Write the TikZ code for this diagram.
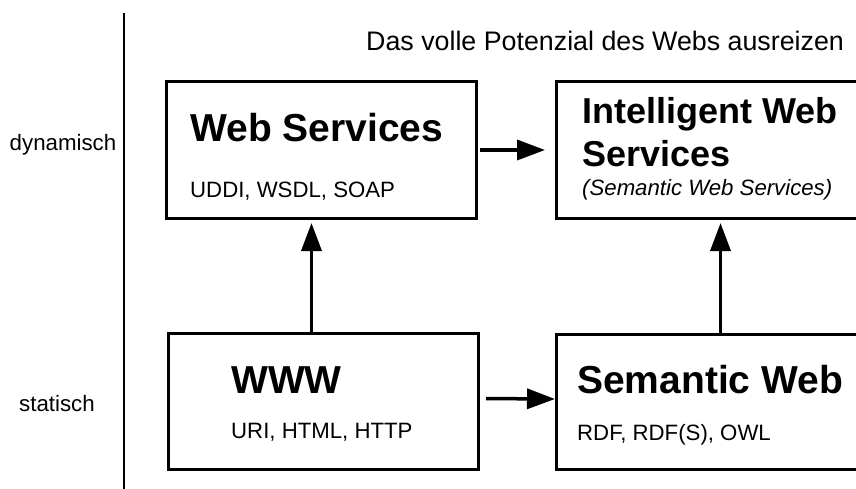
\documentclass[tikz,border=0pt]{standalone}
\usepackage{fontspec}
\setmainfont{Liberation Sans}
\usetikzlibrary{arrows.meta}
\begin{document}
\begin{tikzpicture}[x=1pt,y=-1pt,
  box/.style={draw=black, line width=3pt, rectangle, anchor=north west, inner sep=0pt},
  ttl/.style={anchor=base west, inner sep=0pt, font=\fontsize{39}{44}\selectfont\bfseries},
  sub/.style={anchor=base west, inner sep=0pt, font=\fontsize{22.2}{24}\selectfont},
  lbl/.style={anchor=base, inner sep=0pt, font=\fontsize{22.3}{24}\selectfont},
  arr/.style={line width=3.5pt, -{Triangle[length=28pt,width=20pt]}}]
\useasboundingbox (0,0) rectangle (856,489);
\clip (0,0) rectangle (856,489);
\fill[white] (0,0) rectangle (856,489);
% axis
\draw[line width=2.5pt] (124,13) -- (124,489);
\node[lbl] (dyn) at (63,151) {dynamisch};
\node[lbl] (sta) at (57,411) {statisch};
\node[anchor=base west, inner sep=0pt, font=\fontsize{26.8}{28}\selectfont] (title) at (366,51) {Das volle Potenzial des Webs ausreizen};
% boxes
\node[box, minimum width=310pt, minimum height=137pt] (ws) at (165,80) {};
\node[box, minimum width=330pt, minimum height=137pt] (iws) at (555,80) {};
\node[box, minimum width=310pt, minimum height=136pt] (www) at (167,332) {};
\node[box, minimum width=330pt, minimum height=135pt] (sw) at (555,333) {};
% texts
\node[ttl] (wst) at (190,142) {Web Services};
\node[sub] (wss) at (190,197) {UDDI, WSDL, SOAP};
\node[ttl, font=\fontsize{36}{40}\selectfont\bfseries] (iwt1) at (582,124) {Intelligent Web};
\node[ttl, font=\fontsize{36}{40}\selectfont\bfseries] (iwt2) at (582,167) {Services};
\node[sub, font=\fontsize{22.2}{24}\selectfont\itshape] (iws2) at (582,196) {(Semantic Web Services)};
\node[ttl] (wwwt) at (231,393) {WWW};
\node[sub] (wwws) at (231,438) {URI, HTML, HTTP};
\node[ttl] (swt) at (577,393) {Semantic Web};
\node[sub] (sws) at (577,440) {RDF, RDF(S), OWL};
% arrows
\draw[arr, shorten >=10pt, shorten <=2pt] (ws.east) -- (iws.west);
\draw[arr, shorten <=6pt] ([yshift=3pt]www.east) -- ([yshift=3pt]sw.west);
\draw[arr, shorten >=3pt] ([xshift=-12pt]www.north) -- ([xshift=-12pt]www.north |- ws.south);
\draw[arr, shorten >=3pt] ([xshift=-1pt]sw.north) -- ([xshift=-1pt]sw.north |- iws.south);
\end{tikzpicture}
\end{document}
